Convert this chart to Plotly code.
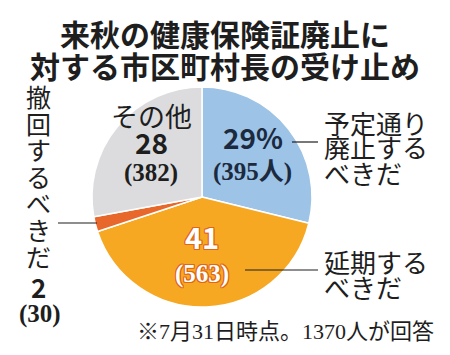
import plotly.graph_objects as go

W, H = 450, 355

# ---- data ----
labels = ["予定通り廃止するべきだ", "延期するべきだ", "撤回するべきだ", "その他"]
counts = [395, 563, 30, 382]
percents = [29, 41, 2, 28]
title_lines = ["来秋の健康保険証廃止に", "対する市区町村長の受け止め"]
note = "※7月31日時点。1370人が回答"

# ---- styles ----
colors = ["#9DC3E6", "#F7A823", "#E8672A", "#DCDCDE"]
GOTH = "Noto Sans CJK JP, Noto Sans, sans-serif"
SERIF = "Liberation Serif, DejaVu Serif, Noto Sans CJK JP, serif"
INK = "#1E1E1E"

# page body has an 8px default margin; layout coordinates below are screen pixels
OFF = 8


def px(x, y):
    return (x - OFF) / W, 1 - (y - OFF) / H


cx, cy, r = 202, 197, 110
dx0, dy1 = px(cx - r, cy - r)
dx1, dy0 = px(cx + r, cy + r)

fig = go.Figure(
    go.Pie(
        values=counts,
        labels=labels,
        sort=False,
        direction="clockwise",
        rotation=0,
        marker=dict(colors=colors, line=dict(color="white", width=1.5)),
        textinfo="none",
        hoverinfo="label+value",
        domain=dict(x=[dx0, dx1], y=[dy0, dy1]),
        showlegend=False,
    )
)

anns = []


def ann(text, x, y, size, color=INK, family=GOTH, xanchor="center", weight=None, shadow=None):
    fx, fy = px(x, y)
    font = dict(size=size, color=color, family=family)
    if weight:
        font["weight"] = weight
    if shadow:
        font["shadow"] = shadow
    anns.append(dict(text=text, x=fx, y=fy, xref="paper", yref="paper",
                     xanchor=xanchor, yanchor="middle", showarrow=False,
                     font=font, borderpad=0))


# title
ann(title_lines[0], 225, 33, 30, weight=700)
ann(title_lines[1], 225, 65, 30, weight=700)

# slice 0 (blue)
ann(f"{percents[0]}%", 253, 137, 28, color="#1B2A3E", weight=700)
ann(f"({counts[0]}人)", 253, 172, 25, family=SERIF, weight=700, color="#1B2A3E")
l0 = labels[0]
for i, part in enumerate([l0[0:4], l0[4:8], l0[8:]]):
    ann(part, 323, 122 + 25 * i, 26, xanchor="left")

# slice 1 (orange)
oc = "#E0661A"
sh = (f"1px 0 0 {oc}, -1px 0 0 {oc}, 0 1px 0 {oc}, 0 -1px 0 {oc}, "
      f"1px 1px 0 {oc}, -1px -1px 0 {oc}, 1px -1px 0 {oc}, -1px 1px 0 {oc}")
ann(f"{percents[1]}", 202, 236, 29, color="white", weight=700, shadow=sh)
ann(f"({counts[1]})", 202, 274, 25, color="white", family=SERIF, weight=700, shadow=sh)
l1 = labels[1]
for i, part in enumerate([l1[0:4], l1[4:]]):
    ann(part, 323, 261 + 25 * i, 26, xanchor="left")

# slice 2 (red) - vertical label
for i, ch in enumerate(labels[2]):
    ann(ch, 38, 96 + 26.6 * i, 25)
ann(f"{percents[2]}", 38, 286, 26, weight=700)
ann(f"({counts[2]})", 40, 314, 25, family=SERIF, weight=700)

# slice 3 (gray)
ann(labels[3], 151, 115, 27)
ann(f"{percents[3]}", 151, 142, 28, weight=700)
ann(f"({counts[3]})", 151, 173, 25, family=SERIF, weight=700)

# footnote
ann(note, 435, 331, 22, family=SERIF, xanchor="right")

shapes = []
for (x0, y0, x1, y1) in [(292, 142, 318, 142), (245, 270, 318, 270), (58, 223, 97, 223)]:
    a0, b0 = px(x0, y0)
    a1, b1 = px(x1, y1)
    shapes.append(dict(type="line", xref="paper", yref="paper", x0=a0, y0=b0, x1=a1, y1=b1,
                       line=dict(color=INK, width=1.2)))

fig.update_layout(
    width=W, height=H,
    margin=dict(l=0, r=0, t=0, b=0),
    paper_bgcolor="white", plot_bgcolor="white",
    annotations=anns, shapes=shapes,
)

fig.write_html("out.html")
